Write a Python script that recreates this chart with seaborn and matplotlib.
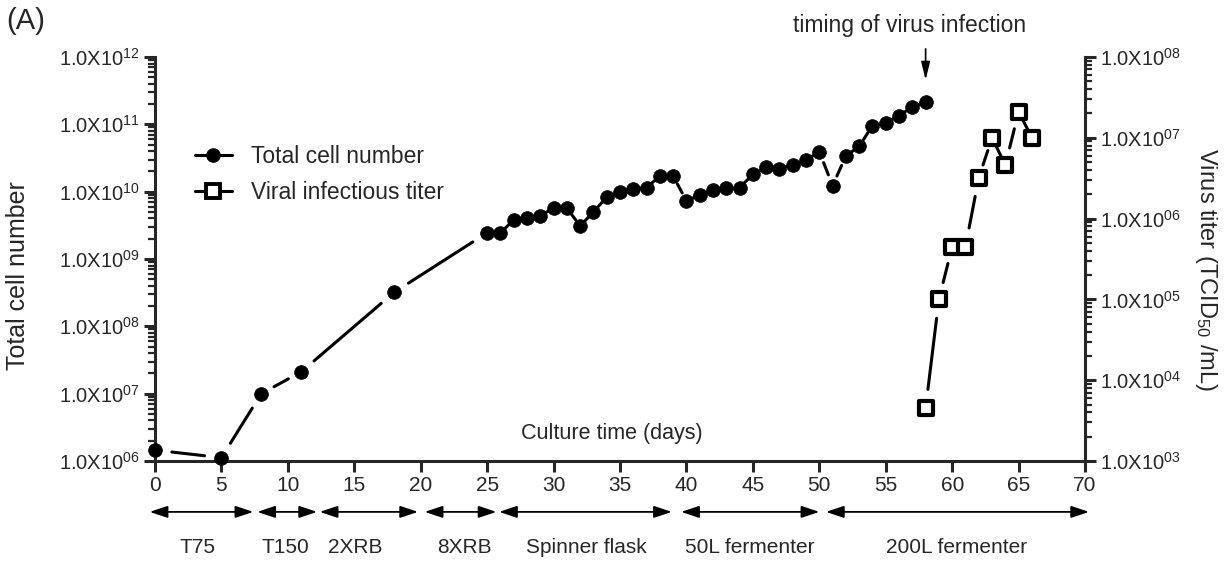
import numpy as np
import pandas as pd
import matplotlib
matplotlib.use("Agg")
import matplotlib.pyplot as plt
import seaborn as sns
from matplotlib.ticker import FuncFormatter, NullFormatter, FixedLocator
from matplotlib.lines import Line2D

# ---------------- data ----------------
cell_days = [0, 5, 8, 11, 18, 25, 26, 27, 28, 29, 30, 31, 32, 33, 34, 35, 36, 37, 38, 39,
             40, 41, 42, 43, 44, 45, 46, 47, 48, 49, 50, 51, 52, 53, 54, 55, 56, 57, 58]
cell_counts = [1.45e6, 1.12e6, 1.0e7, 2.1e7, 3.2e8, 2.45e9, 2.45e9, 3.8e9, 4.0e9, 4.4e9,
               5.7e9, 5.7e9, 3.1e9, 5.0e9, 8.3e9, 1.0e10, 1.1e10, 1.15e10, 1.7e10, 1.7e10,
               7.3e9, 8.9e9, 1.07e10, 1.15e10, 1.15e10, 1.8e10, 2.3e10, 2.2e10, 2.5e10, 2.95e10,
               3.9e10, 1.23e10, 3.4e10, 4.7e10, 9.6e10, 1.05e11, 1.35e11, 1.8e11, 2.15e11]
virus_days = [58, 59, 60, 61, 62, 63, 64, 65, 66]
virus_titer = [4.5e3, 1.0e5, 4.5e5, 4.5e5, 3.2e6, 1.0e7, 4.6e6, 2.1e7, 1.0e7]

stage_names = ["T75", "T150", "2XRB", "8XRB", "Spinner flask", "50L fermenter", "200L fermenter"]
stage_start = [-0.4, 7.7, 12.4, 20.3, 25.9, 39.6, 50.5]
stage_end = [7.4, 12.2, 19.8, 25.7, 38.9, 50.0, 70.3]
stage_label_x = [3.2, 9.8, 15.1, 23.3, 32.5, 44.8, 60.3]

x_ticks = list(range(0, 75, 5))
cell_exponents = list(range(6, 13))
virus_exponents = list(range(3, 9))
infection_day = 58

cells = pd.DataFrame({"day": cell_days, "count": cell_counts})
virus = pd.DataFrame({"day": virus_days, "titer": virus_titer})

# ---------------- style ----------------
sns.set_style("ticks")
plt.rcParams["font.family"] = ["Liberation Sans", "DejaVu Sans"]
plt.rcParams["mathtext.fontset"] = "custom"
plt.rcParams["mathtext.rm"] = "Liberation Sans"
plt.rcParams["mathtext.it"] = "Liberation Sans:italic"
plt.rcParams["mathtext.bf"] = "Liberation Sans:bold"

fig = plt.figure(figsize=(12.28, 5.63), dpi=100)
ax = fig.add_axes([0.1262, 0.1812, 0.7574, 0.7176])
ax.set_yscale("log")
ax.set_xlim(0, 70)
ax.set_ylim(10.0 ** cell_exponents[0], 10.0 ** cell_exponents[-1])

ax2 = ax.twinx()
ax2.set_yscale("log")
ax2.set_ylim(10.0 ** virus_exponents[0], 10.0 ** virus_exponents[-1])
ax2.set_xlim(0, 70)


def gapped_segments(a, xs, ys, frac, max_gap):
    """GraphPad-style connecting lines that stop short of each marker."""
    pts = a.transData.transform(np.column_stack([xs, ys]))
    inv = a.transData.inverted()
    rows = []
    for i in range(len(xs) - 1):
        p0, p1 = pts[i], pts[i + 1]
        d = np.hypot(*(p1 - p0))
        g = min(frac * d, max_gap)
        if d - 2 * g <= 0.5:
            continue
        u = (p1 - p0) / d
        q0, q1 = inv.transform(np.vstack([p0 + u * g, p1 - u * g]))
        rows.append((i, q0[0], q0[1]))
        rows.append((i, q1[0], q1[1]))
    return pd.DataFrame(rows, columns=["seg", "x", "y"])


# ---------------- cell number series ----------------
cell_segs = gapped_segments(ax, cell_days, cell_counts, 0.32, 17)
sns.lineplot(data=cell_segs, x="x", y="y", units="seg", estimator=None, sort=False,
             ax=ax, color="black", lw=2.2, zorder=2)
sns.scatterplot(data=cells, x="day", y="count", ax=ax, color="black", edgecolor="black",
                s=98, marker="o", zorder=4, clip_on=False, linewidth=0.5)

# ---------------- virus titer series ----------------
virus_segs = gapped_segments(ax2, virus_days, virus_titer, 0.32, 19)
sns.lineplot(data=virus_segs, x="x", y="y", units="seg", estimator=None, sort=False,
             ax=ax2, color="black", lw=2.2, zorder=2)
sns.scatterplot(data=virus, x="day", y="titer", ax=ax2, color="white", edgecolor="black",
                s=105, marker="s", zorder=4, clip_on=False, linewidth=3.0)

# ---------------- axes styling ----------------
def sci_fmt(v, pos):
    e = int(round(np.log10(v)))
    return r"$\mathregular{1.0X10^{%02d}}$" % e


def minor_positions(exps):
    return [m * 10.0 ** e for e in exps[:-1] for m in range(2, 10)]


for a, exps in ((ax, cell_exponents), (ax2, virus_exponents)):
    a.set_xlabel("")
    a.set_ylabel("")
    a.yaxis.set_major_locator(FixedLocator([10.0 ** e for e in exps]))
    a.yaxis.set_minor_locator(FixedLocator(minor_positions(exps)))
    a.yaxis.set_major_formatter(FuncFormatter(sci_fmt))
    a.yaxis.set_minor_formatter(NullFormatter())
ax2.xaxis.label.set_visible(False)

ax.xaxis.set_major_locator(FixedLocator(x_ticks))
ax.set_xticklabels([str(t) for t in x_ticks])

ax.spines["top"].set_visible(False)
ax.spines["right"].set_visible(False)
ax2.spines["top"].set_visible(False)
ax2.spines["left"].set_visible(False)
ax2.spines["bottom"].set_visible(False)
for sp in ("left", "bottom"):
    ax.spines[sp].set_linewidth(2.2)
ax2.spines["right"].set_linewidth(2.2)

ax.tick_params(axis="x", which="major", direction="out", length=8, width=2.2, labelsize=15, pad=3)
ax.tick_params(axis="y", which="major", direction="out", length=8, width=2.2, labelsize=14.5, pad=3)
ax.tick_params(axis="y", which="minor", direction="out", length=5, width=1.6)
ax2.tick_params(axis="y", which="major", direction="out", length=8, width=2.2, labelsize=14.5, pad=3)
ax2.tick_params(axis="y", which="minor", direction="out", length=5, width=1.6)

ax.set_ylabel("Total cell number", fontsize=18)
ax.yaxis.set_label_coords(-0.134, 0.46)
ax2.set_ylabel(r"Virus titer (TCID$_{\mathregular{50}}$ /mL)", fontsize=17, rotation=270, va="center")
ax2.yaxis.set_label_coords(1.130, 0.475)

ax.text(0.491, 0.069, "Culture time (days)", transform=ax.transAxes, fontsize=15.5,
        ha="center", va="center")

# legend
handles = [
    Line2D([], [], color="black", lw=2.2, marker="o", ms=9.5),
    Line2D([], [], color="black", lw=2.2, marker="s", ms=9.5, mfc="white", mec="black", mew=2.8),
]
ax2.legend(handles, ["Total cell number", "Viral infectious titer"], loc="upper left",
           bbox_to_anchor=(0.043, 0.782), frameon=False, fontsize=16.5,
           handlelength=1.6, handletextpad=0.85, labelspacing=0.55, borderaxespad=0, borderpad=0)

# infection annotation
ax.annotate("", xy=(infection_day, 0.943), xycoords=("data", "axes fraction"),
            xytext=(infection_day, 1.02), textcoords=("data", "axes fraction"),
            arrowprops=dict(arrowstyle="-|>,head_width=0.22,head_length=0.9", color="black",
                            lw=1.2, shrinkA=0, shrinkB=0, mutation_scale=12),
            annotation_clip=False)
ax.text(56.8, 1.079, "timing of virus infection", transform=ax.get_xaxis_transform(),
        fontsize=16.5, ha="center", va="center")

# culture stage arrows
for name, s0, s1, lx in zip(stage_names, stage_start, stage_end, stage_label_x):
    ax.annotate("", xy=(s1, -0.126), xycoords=("data", "axes fraction"),
                xytext=(s0, -0.126), textcoords=("data", "axes fraction"),
                arrowprops=dict(arrowstyle="<|-|>,head_width=0.3,head_length=0.9", color="black",
                                lw=1.3, shrinkA=0, shrinkB=0, mutation_scale=12),
                annotation_clip=False)
    ax.text(lx, -0.213, name, transform=ax.get_xaxis_transform(), fontsize=15,
            ha="center", va="center")

fig.text(0.005, 0.962, "(A)", fontsize=21, ha="left", va="center")

fig.savefig("out.png", dpi=100)
